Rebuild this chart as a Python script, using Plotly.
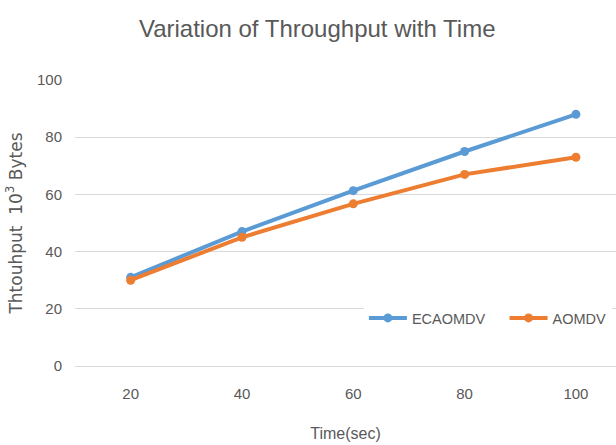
import plotly.graph_objects as go

time_labels = ["20", "40", "60", "80", "100"]
ecaomdv = [31, 47, 61.3, 75, 88]
aomdv = [30, 45, 56.7, 67, 73]

font_main = "Liberation Sans, Arial, sans-serif"
gray = "#595959"

fig = go.Figure()
fig.add_trace(go.Scatter(x=time_labels, y=ecaomdv, name="ECAOMDV", mode="lines+markers",
                         line=dict(color="#5B9BD5", width=4),
                         marker=dict(symbol="circle", size=9, color="#5B9BD5"),
                         legend="legend"))
fig.add_trace(go.Scatter(x=time_labels, y=aomdv, name="AOMDV", mode="lines+markers",
                         line=dict(color="#ED7D31", width=4),
                         marker=dict(symbol="circle", size=9, color="#ED7D31"),
                         legend="legend2"))

legend_common = dict(orientation="h", xanchor="left", y=0.168, yanchor="middle",
                     bgcolor="white", font=dict(family=font_main, size=14.5, color=gray),
                     itemwidth=38)

fig.update_layout(
    width=616, height=445,
    margin=dict(l=75, r=0, t=80, b=79),
    paper_bgcolor="white", plot_bgcolor="white",
    title=dict(text="Variation of Throughput with Time", x=0.515, xanchor="center",
               y=0.935, yanchor="middle", xref="container", yref="container",
               font=dict(family=font_main, size=24, color=gray)),
    xaxis=dict(type="category", range=[-0.5, 4.36], showgrid=False, zeroline=False,
               showline=False, ticks="", tickfont=dict(family=font_main, size=15, color=gray),
               ticklabelstandoff=17,
               title=dict(text="Time(sec)", font=dict(family=font_main, size=16, color=gray), standoff=26)),
    yaxis=dict(range=[0, 100], dtick=20, showgrid=True, gridcolor="#D9D9D9", gridwidth=1,
               zeroline=True, zerolinecolor="#D9D9D9", zerolinewidth=1,
               showline=False, ticks="", tickfont=dict(family=font_main, size=15, color=gray),
               ticklabelstandoff=12,
               title=dict(text="Thtouhput  10<sup>3</sup> Bytes",
                          font=dict(family="DejaVu Sans, sans-serif", size=17, color=gray), standoff=10)),
    legend=dict(x=0.534, entrywidth=90, entrywidthmode="pixels", **legend_common),
    legend2=dict(x=0.794, **legend_common),
    showlegend=True,
)

fig.write_html("out.html")
